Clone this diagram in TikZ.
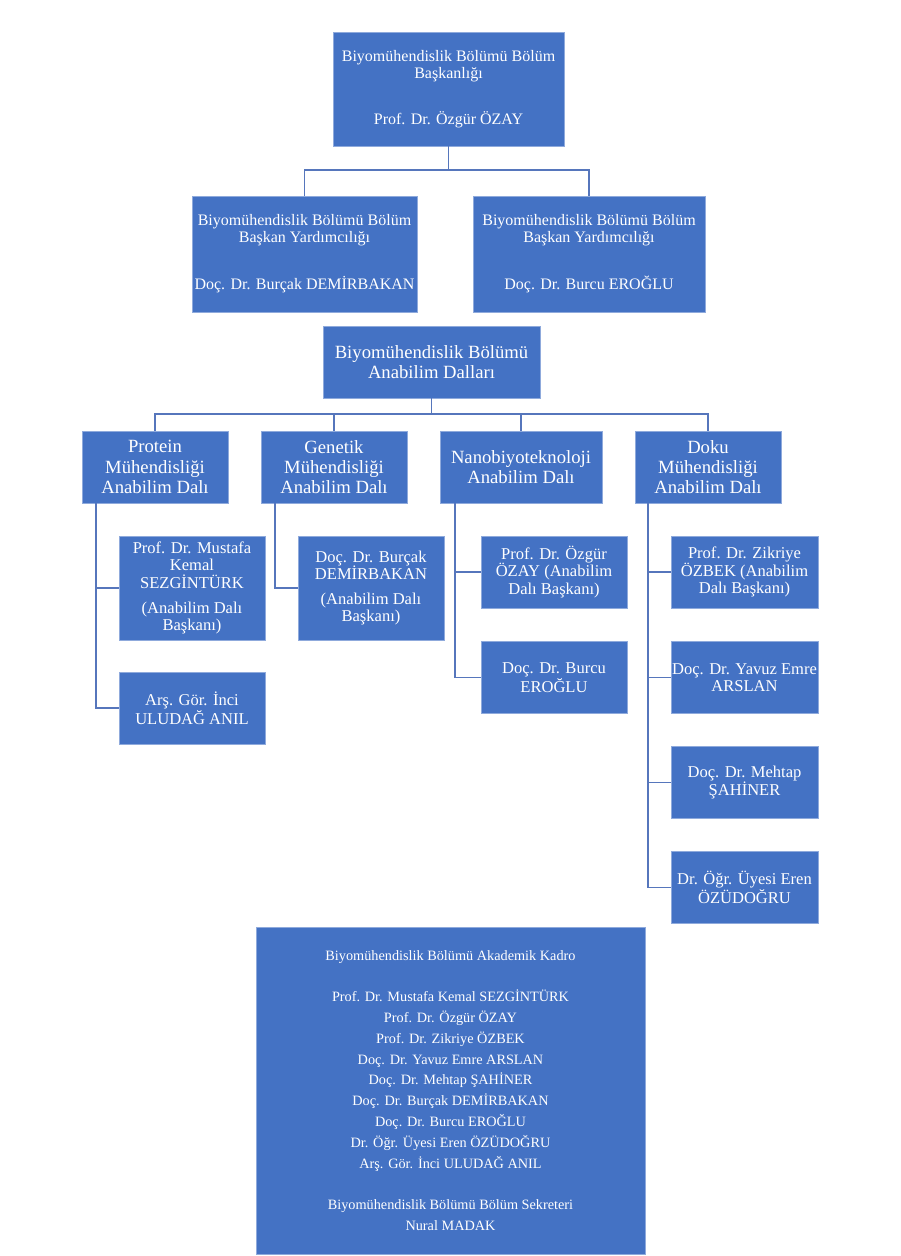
\documentclass[tikz,border=0pt]{standalone}
\usepackage{fontspec}
\setmainfont{Liberation Serif}
\usepackage{xcolor}
\definecolor{orgblue}{HTML}{4472C4}
\definecolor{orgedge}{HTML}{8FAADC}
\definecolor{orgline}{HTML}{5676BC}
\tikzset{
  blue box/.style={
    fill=orgblue,
    draw=orgedge,
    line width=0.4pt,
    text=white,
    align=center,
    inner sep=0pt,
  },
  chair box/.style={
    blue box,
    font={\fontsize{12}{12.4}\selectfont},
  },
  branch box/.style={
    blue box,
    font={\fontsize{14}{15.2}\selectfont},
    minimum width={146*0.75pt},
    minimum height={72*0.75pt},
  },
  member box/.style={
    blue box,
    font={\fontsize{12.4}{13.1}\selectfont},
    minimum width={146*0.75pt},
  },
  link/.style={
    draw=orgline,
    line width=1.4pt,
  }
}

\begin{document}
\begin{tikzpicture}[x=0.75pt,y=-0.75pt]
        \useasboundingbox (0,0) rectangle (900,1256);

        % department chair and vice chairs
        \node [chair box, minimum width=231*0.75pt, minimum height=114*0.75pt] (head) at (448.5,89)
            {Biyomühendislik Bölümü Bölüm\\Başkanlığı\\[22pt]Prof. Dr. Özgür ÖZAY};
        \node [chair box, minimum width=225*0.75pt, minimum height=116*0.75pt] (vice1) at (304.5,254)
            {Biyomühendislik Bölümü Bölüm\\Başkan Yardımcılığı\\[22pt]Doç. Dr. Burçak DEMİRBAKAN};
        \node [chair box, minimum width=232*0.75pt, minimum height=116*0.75pt] (vice2) at (589,254)
            {Biyomühendislik Bölümü Bölüm\\Başkan Yardımcılığı\\[22pt]Doç. Dr. Burcu EROĞLU};

        \coordinate (bus1) at (head.south |- 0,170);
        \draw [link] (head.south) -- (bus1);
        \draw [link] (vice1.north) |- (bus1) -| (vice2.north);

        % divisions
        \node [branch box, minimum width=217*0.75pt] (dallar) at (431.5,362)
            {Biyomühendislik Bölümü\\Anabilim Dalları};
        \node [branch box] (protein) at (155,467) {Protein\\Mühendisliği\\Anabilim Dalı};
        \node [branch box] (genetik) at (334,467) {Genetik\\Mühendisliği\\Anabilim Dalı};
        \node [branch box, minimum width=162*0.75pt] (nano) at (521,467) {Nanobiyoteknoloji\\Anabilim Dalı};
        \node [branch box] (doku) at (708,467) {Doku\\Mühendisliği\\Anabilim Dalı};

        \coordinate (bus2) at (dallar.south |- 0,414);
        \draw [link] (dallar.south) -- (bus2);
        \draw [link] (protein.north) |- (bus2) -| (doku.north);
        \draw [link] (genetik.north) -- (genetik.north |- bus2);
        \draw [link] (nano.north) -- (nano.north |- bus2);

        % members
        \node [member box, minimum height=104*0.75pt] (p1) at (192,588)
            {Prof. Dr. Mustafa\\Kemal\\SEZGİNTÜRK\\[5.5pt](Anabilim Dalı\\Başkanı)};
        \node [member box, minimum height=72*0.75pt] (p2) at (192,708) {Arş. Gör. İnci\\ULUDAĞ ANIL};
        \node [member box, minimum height=104*0.75pt] (g1) at (371,588)
            {Doç. Dr. Burçak\\DEMİRBAKAN\\[5.5pt](Anabilim Dalı\\Başkanı)};
        \node [member box, minimum height=72*0.75pt] (n1) at (554,572) {Prof. Dr. Özgür\\ÖZAY (Anabilim\\Dalı Başkanı)};
        \node [member box, minimum height=72*0.75pt] (n2) at (554,677.5) {Doç. Dr. Burcu\\EROĞLU};
        \node [member box, minimum height=72*0.75pt, minimum width=147*0.75pt] (d1) at (744.5,572)
            {Prof. Dr. Zikriye\\ÖZBEK (Anabilim\\Dalı Başkanı)};
        \node [member box, minimum height=72*0.75pt, minimum width=147*0.75pt] (d2) at (744.5,677.5)
            {Doç. Dr. Yavuz Emre\\ARSLAN};
        \node [member box, minimum height=72*0.75pt, minimum width=147*0.75pt] (d3) at (744.5,782.5)
            {Doç. Dr. Mehtap\\ŞAHİNER};
        \node [member box, minimum height=72*0.75pt, minimum width=147*0.75pt] (d4) at (744.5,887.5)
            {Dr. Öğr. Üyesi Eren\\ÖZÜDOĞRU};

        \coordinate (pspine) at (96,503);
        \coordinate (gspine) at (275,503);
        \coordinate (nspine) at (455,503);
        \coordinate (dspine) at (648,503);
        \draw [link] (pspine) |- (p2.west);
        \draw [link] (pspine |- p1.west) -- (p1.west);
        \draw [link] (gspine) |- (g1.west);
        \draw [link] (nspine) |- (n2.west);
        \draw [link] (nspine |- n1.west) -- (n1.west);
        \draw [link] (dspine) |- (d4.west);
        \draw [link] (dspine |- d1.west) -- (d1.west);
        \draw [link] (dspine |- d2.west) -- (d2.west);
        \draw [link] (dspine |- d3.west) -- (d3.west);

        % academic staff
        \node [blue box, font={\fontsize{10.7}{15.6}\selectfont},
               minimum width=389*0.75pt, minimum height=327*0.75pt] (kadro) at (450.5,1090.5)
            {Biyomühendislik Bölümü Akademik Kadro\\[15.6pt]
             Prof. Dr. Mustafa Kemal SEZGİNTÜRK\\
             Prof. Dr. Özgür ÖZAY\\
             Prof. Dr. Zikriye ÖZBEK\\
             Doç. Dr. Yavuz Emre ARSLAN\\
             Doç. Dr. Mehtap ŞAHİNER\\
             Doç. Dr. Burçak DEMİRBAKAN\\
             Doç. Dr. Burcu EROĞLU\\
             Dr. Öğr. Üyesi Eren ÖZÜDOĞRU\\
             Arş. Gör. İnci ULUDAĞ ANIL\\[15.6pt]
             Biyomühendislik Bölümü Bölüm Sekreteri\\
             Nural MADAK};
    \end{tikzpicture}
\end{document}
